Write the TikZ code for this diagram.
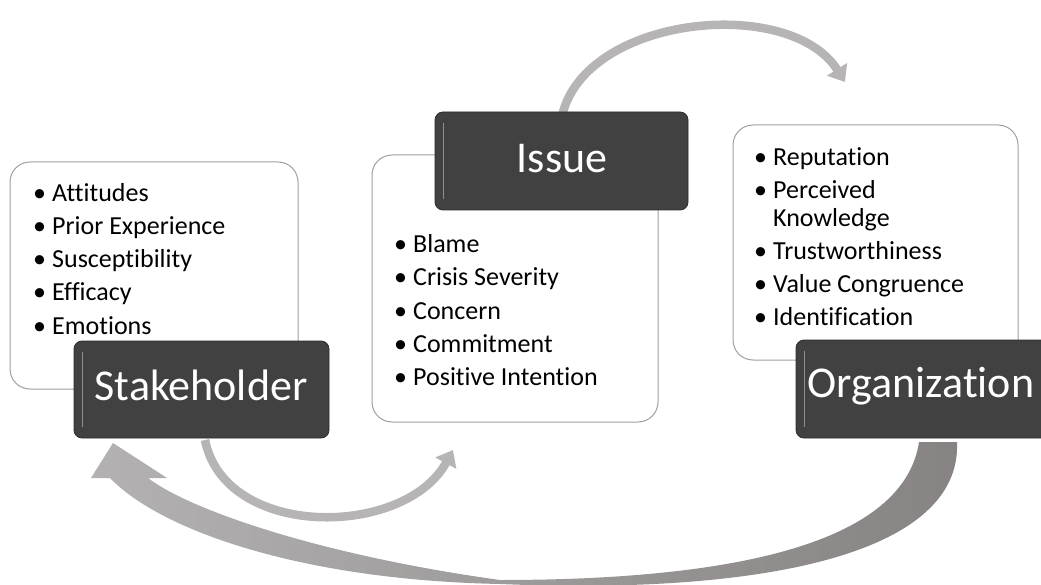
\documentclass[tikz,border=0pt]{standalone}
\usepackage{fontspec}
\setmainfont{Carlito}[Ligatures=NoCommon]
\usetikzlibrary{arrows.meta}
\definecolor{boxline}{HTML}{A0A0A0}
\definecolor{boxdark}{HTML}{414141}
\definecolor{boxdarkline}{HTML}{2C2C2C}
\definecolor{hilite}{HTML}{8E8E8E}
\definecolor{arrowgray}{HTML}{B6B4B4}
\definecolor{bigL}{HTML}{B3B1B1}
\definecolor{bigM}{HTML}{A6A3A3}
\definecolor{bigR}{HTML}{878383}
\begin{document}
\begin{tikzpicture}[x=1pt,y=-1pt,
  whitebox/.style={draw=boxline, fill=white, rounded corners=20pt, line width=1pt, inner sep=0pt},
  darkbox/.style={draw=boxdarkline, fill=boxdark, rounded corners=8pt, line width=0.8pt, inner sep=0pt},
  hiline/.style={draw=hilite, line width=1.6pt, line cap=round},
  titletext/.style={anchor=base, text=white, font=\fontsize{44}{44}\selectfont, inner sep=0pt},
  item/.style={anchor=base west, font=\fontsize{26}{26}\selectfont, inner sep=0pt},
  flow/.style={draw=arrowgray, line width=8.5pt, -{Triangle[width=23pt,length=15pt]}}
]
\useasboundingbox (0,0) rectangle (1041,585);

% big return arrow (Organization -> Stakeholder)
\shade[left color=bigL, middle color=bigM, right color=bigR]
  (957,442) .. controls (962,555) and (760,595) .. (500,584)
  .. controls (300,580) and (160,530) .. (110,478)
  -- (91,478) -- (113,443) -- (167,478) -- (148,478)
  .. controls (190,510) and (320,555) .. (500,580)
  .. controls (760,580) and (905,535) .. (919,442) -- cycle;

% white content boxes
\node[whitebox, minimum width=288pt, minimum height=227pt] (shw) at (154,275.5) {};
\node[whitebox, minimum width=286pt, minimum height=267pt] (isw) at (515,288.5) {};
\node[whitebox, minimum width=285pt, minimum height=235pt] (orw) at (875.5,242.5) {};

% dark title boxes (positions)
\coordinate (shdc) at (201.5,389.5);
\coordinate (isdc) at (561.5,161);
\coordinate (ordc) at (923,389);

% curved arrows (drawn before the dark boxes, which cover their starts)
\coordinate (topstart) at (562,116);
\coordinate (midstart) at (205,440);
\coordinate (topend) at (845,82);
\coordinate (midend) at (453,450);
\draw[flow] (topstart) .. controls (585,15) and (790,-5) .. (topend);
\draw[flow] (midstart) .. controls (225,540) and (405,538) .. (midend);

\node[darkbox, minimum width=255pt, minimum height=97pt] (shd) at (shdc) {};
\node[darkbox, minimum width=253pt, minimum height=98pt] (isd) at (isdc) {};
\node[darkbox, minimum width=254pt, minimum height=98pt] (ord) at (ordc) {};
\draw[hiline] ([xshift=9pt,yshift=-12pt]shd.north west) -- ([xshift=9pt,yshift=12pt]shd.south west);
\draw[hiline] ([xshift=9pt,yshift=-12pt]isd.north west) -- ([xshift=9pt,yshift=12pt]isd.south west);
\draw[hiline] ([xshift=9pt,yshift=-12pt]ord.north west) -- ([xshift=9pt,yshift=12pt]ord.south west);

% titles
\node[titletext] (sht) at (201,400) {Stakeholder};
\node[titletext] (ist) at (562,173) {Issue};
\node[titletext] (ort) at (921,397) {Organization};

% Stakeholder list
\node[item] (s1) at (33,202) {\makebox[19pt][l]{•}Attitudes};
\node[item] (s2) at (33,235) {\makebox[19pt][l]{•}Prior Experience};
\node[item] (s3) at (33,268) {\makebox[19pt][l]{•}Susceptibility};
\node[item] (s4) at (33,301) {\makebox[19pt][l]{•}Efficacy};
\node[item] (s5) at (33,334) {\makebox[19pt][l]{•}Emotions};

% Issue list
\node[item] (i1) at (394,253) {\makebox[19pt][l]{•}Blame};
\node[item] (i2) at (394,286) {\makebox[19pt][l]{•}Crisis Severity};
\node[item] (i3) at (394,319) {\makebox[19pt][l]{•}Concern};
\node[item] (i4) at (394,352) {\makebox[19pt][l]{•}Commitment};
\node[item] (i5) at (394,385) {\makebox[19pt][l]{•}Positive Intention};

% Organization list
\node[item] (o1) at (754,166) {\makebox[19pt][l]{•}Reputation};
\node[item] (o2) at (754,199) {\makebox[19pt][l]{•}Perceived};
\node[item] (o3) at (754,227) {\makebox[19pt][l]{}Knowledge};
\node[item] (o4) at (754,260) {\makebox[19pt][l]{•}Trustworthiness};
\node[item] (o5) at (754,293) {\makebox[19pt][l]{•}Value Congruence};
\node[item] (o6) at (754,325) {\makebox[19pt][l]{•}Identification};
\end{tikzpicture}
\end{document}
